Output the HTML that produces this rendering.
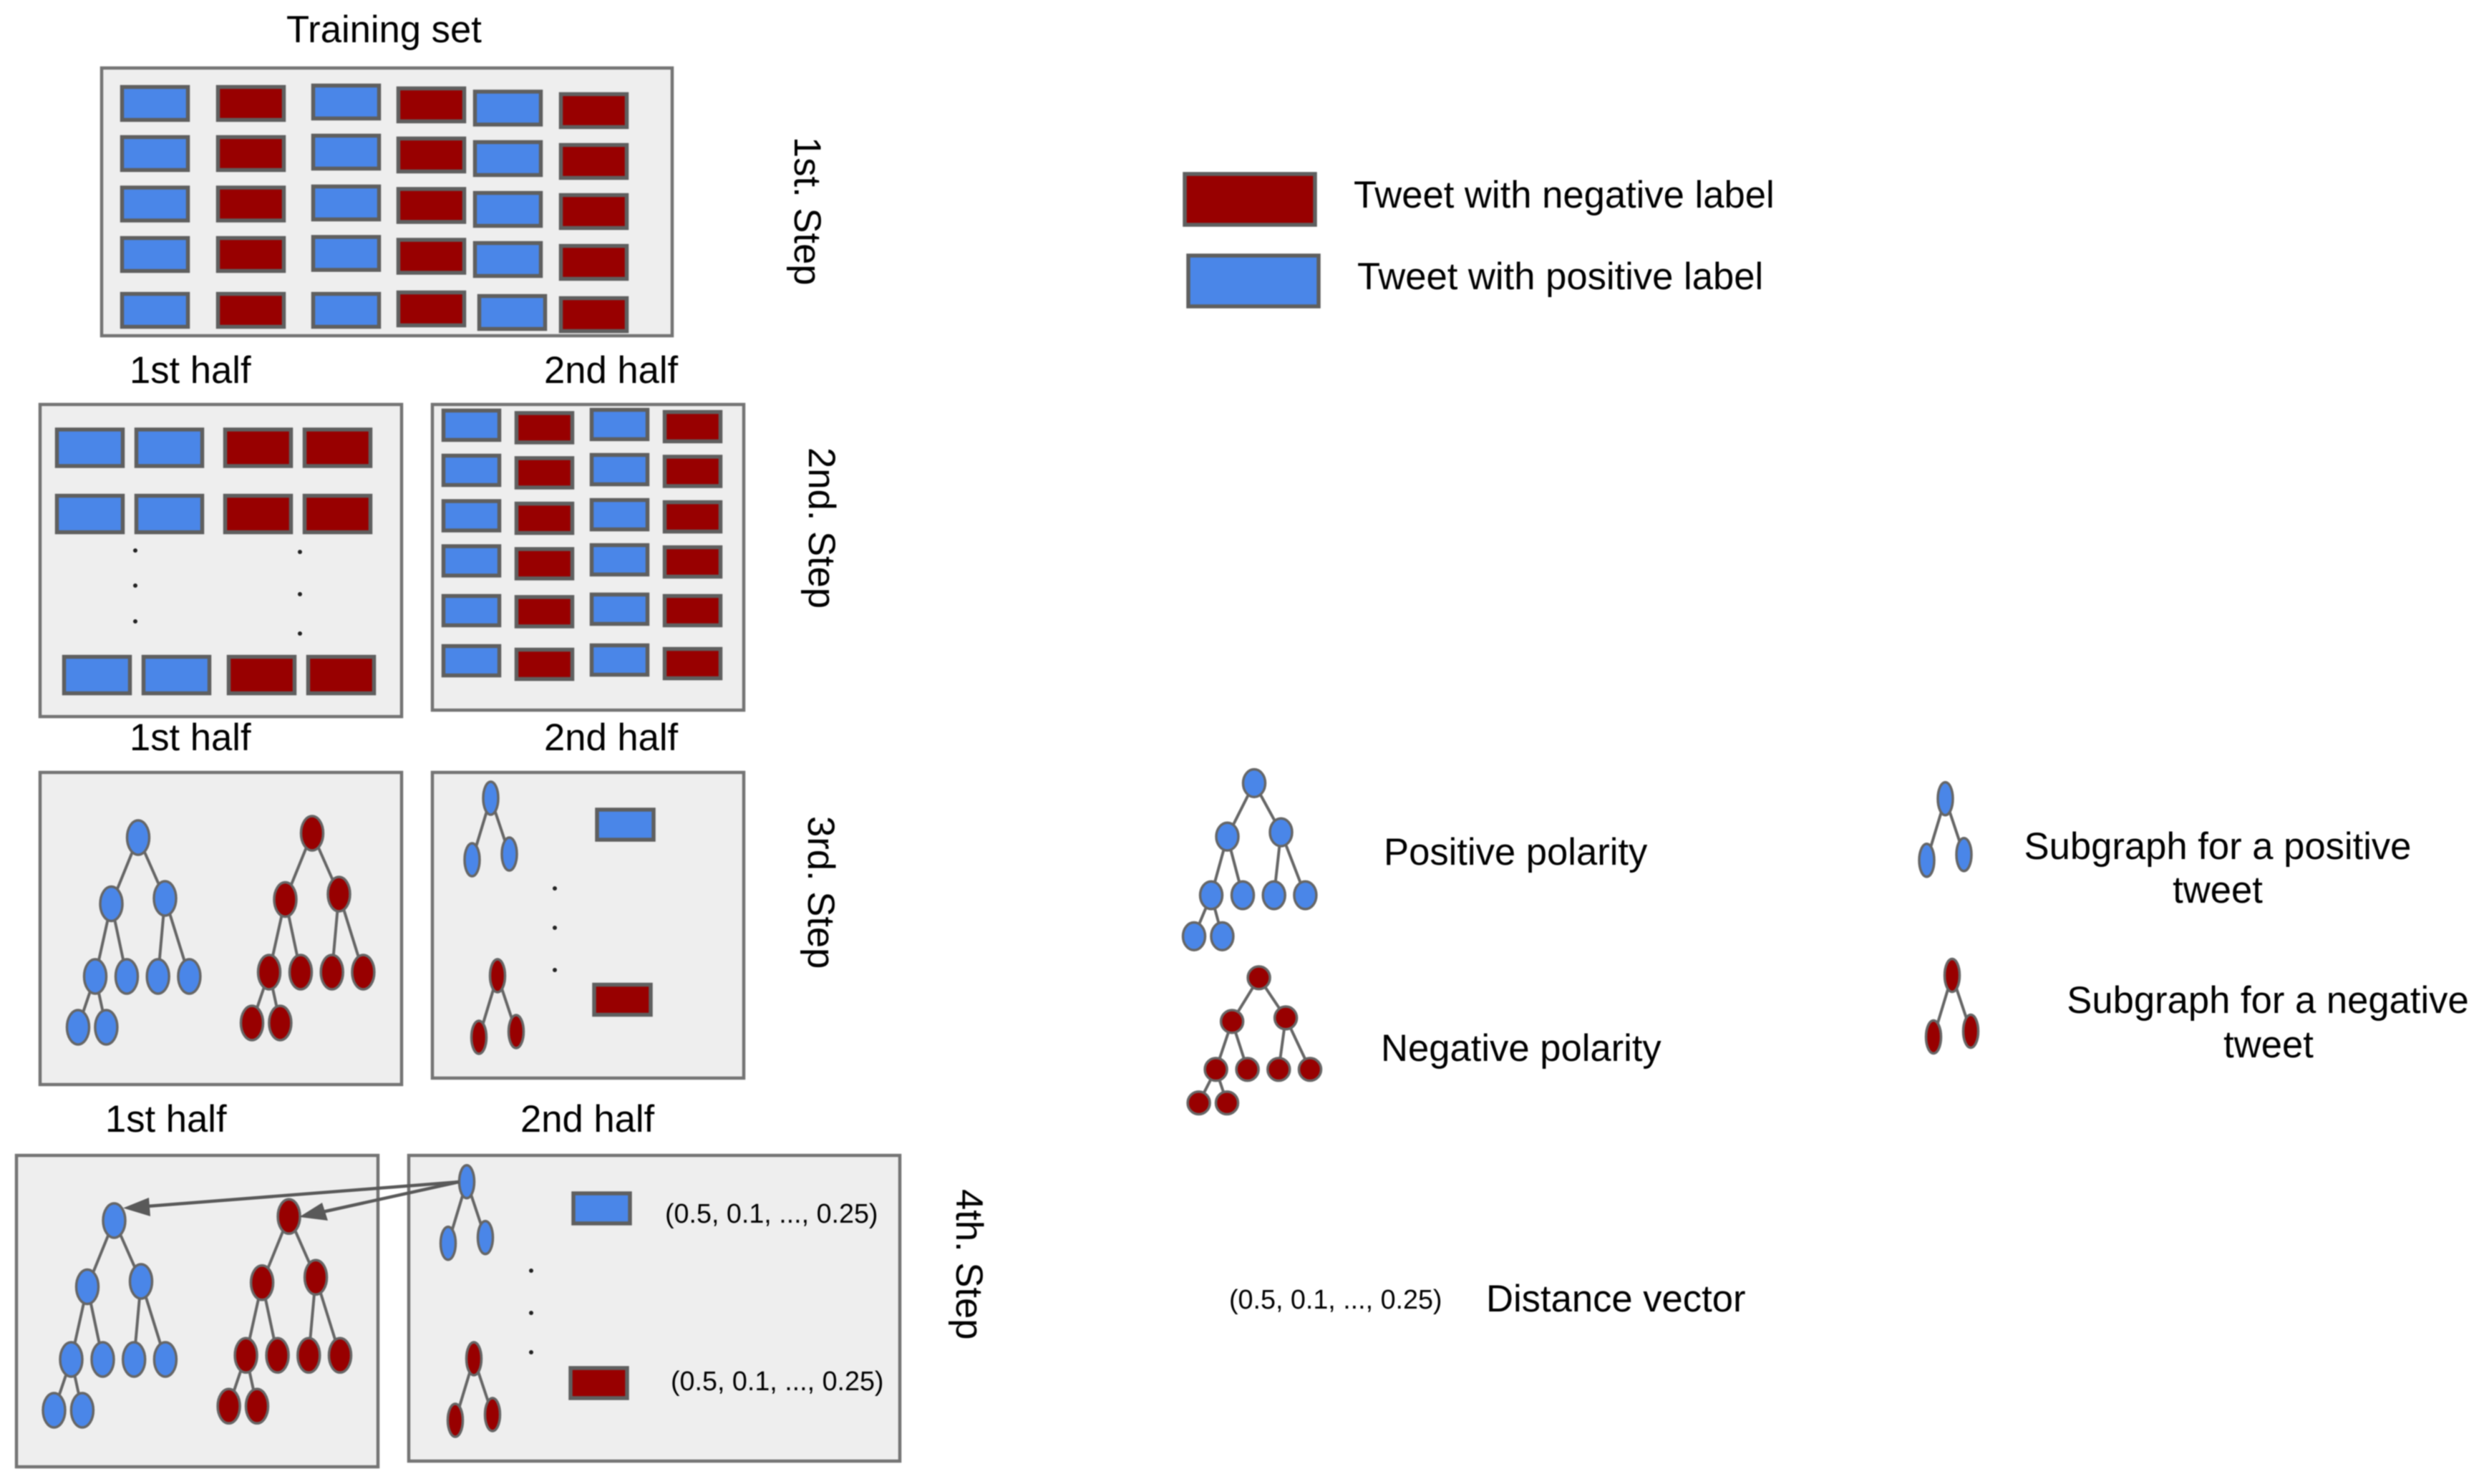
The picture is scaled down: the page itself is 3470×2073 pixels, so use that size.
<!DOCTYPE html>
<html lang="en">
<head>
<meta charset="utf-8">
<title>Training set steps diagram</title>
<style>
html,body{margin:0;padding:0;background:#fff;width:3470px;height:2073px;overflow:hidden}
svg{display:block;filter:blur(0.7px)}
text{font-family:"Liberation Sans",sans-serif;font-size:52.6px;fill:#000}
.small{font-size:37.7px}
.frame{fill:#eeeeee;stroke:#747474;stroke-width:4.5}
.b{fill:#4a86e8;stroke:#5f5f5f;stroke-width:5.5}
.r{fill:#980000;stroke:#5f5f5f;stroke-width:5.5}
.e{stroke:#666;stroke-width:4;fill:none;vector-effect:non-scaling-stroke}
.n{stroke:#666;stroke-width:3.5;vector-effect:non-scaling-stroke}
.dot{fill:#222}
</style>
</head>
<body>
<svg width="3470" height="2073" viewBox="0 0 3470 2073" xmlns="http://www.w3.org/2000/svg">
<defs>
  <g id="tree">
    <line class="e" x1="0" y1="0" x2="-37.5" y2="92.5"/><line class="e" x1="0" y1="0" x2="37.5" y2="85"/>
    <line class="e" x1="-37.5" y1="92.5" x2="-60" y2="194"/><line class="e" x1="-37.5" y1="92.5" x2="-16" y2="194"/>
    <line class="e" x1="37.5" y1="85" x2="27.7" y2="194"/><line class="e" x1="37.5" y1="85" x2="71.4" y2="194"/>
    <line class="e" x1="-60" y1="194" x2="-84" y2="265"/><line class="e" x1="-60" y1="194" x2="-44.6" y2="265"/>
    <ellipse class="n" cx="0" cy="0" rx="15.5" ry="24"/>
    <ellipse class="n" cx="-37.5" cy="92.5" rx="15.5" ry="24"/><ellipse class="n" cx="37.5" cy="85" rx="15.5" ry="24"/>
    <ellipse class="n" cx="-60" cy="194" rx="15.5" ry="24"/><ellipse class="n" cx="-16" cy="194" rx="15.5" ry="24"/>
    <ellipse class="n" cx="27.7" cy="194" rx="15.5" ry="24"/><ellipse class="n" cx="71.4" cy="194" rx="15.5" ry="24"/>
    <ellipse class="n" cx="-84" cy="265" rx="15.5" ry="24"/><ellipse class="n" cx="-44.6" cy="265" rx="15.5" ry="24"/>
  </g>
  <g id="sub">
    <line class="e" x1="0" y1="0" x2="-26" y2="86"/><line class="e" x1="0" y1="0" x2="26" y2="78"/>
    <ellipse class="n" cx="0" cy="0" rx="10.5" ry="23"/>
    <ellipse class="n" cx="-26" cy="86" rx="10.5" ry="23"/><ellipse class="n" cx="26" cy="78" rx="10.5" ry="23"/>
  </g>
</defs>

<text x="400" y="59">Training set</text>

<!-- Step 1 -->
<rect class="frame" x="142" y="95" width="797" height="374"/>
<g transform="translate(2.5,2.5)">
  <g>
    <rect class="b" x="168" y="119" width="92" height="46"/>
    <rect class="b" x="168" y="189" width="92" height="46"/>
    <rect class="b" x="168" y="259.5" width="92" height="46"/>
    <rect class="b" x="168" y="330" width="92" height="46"/>
    <rect class="b" x="168" y="408" width="92" height="46"/>
  </g>
  <g>
    <rect class="r" x="302" y="119" width="92" height="46"/>
    <rect class="r" x="302" y="189" width="92" height="46"/>
    <rect class="r" x="302" y="259.5" width="92" height="46"/>
    <rect class="r" x="302" y="330" width="92" height="46"/>
    <rect class="r" x="302" y="408" width="92" height="46"/>
  </g>
  <g>
    <rect class="b" x="435" y="117" width="92" height="46"/>
    <rect class="b" x="435" y="187" width="92" height="46"/>
    <rect class="b" x="435" y="258" width="92" height="46"/>
    <rect class="b" x="435" y="328.5" width="92" height="46"/>
    <rect class="b" x="435" y="408" width="92" height="46"/>
  </g>
  <g>
    <rect class="r" x="554" y="121" width="92" height="46"/>
    <rect class="r" x="554" y="191" width="92" height="46"/>
    <rect class="r" x="554" y="261.5" width="92" height="46"/>
    <rect class="r" x="554" y="332.5" width="92" height="46"/>
    <rect class="r" x="554" y="406" width="92" height="46"/>
  </g>
  <g>
    <rect class="b" x="661" y="125.5" width="92" height="46"/>
    <rect class="b" x="661" y="196" width="92" height="46"/>
    <rect class="b" x="661" y="267" width="92" height="46"/>
    <rect class="b" x="661" y="337" width="92" height="46"/>
    <rect class="b" x="667" y="411" width="92" height="46"/>
  </g>
  <g>
    <rect class="r" x="781" y="129" width="92" height="46"/>
    <rect class="r" x="781" y="200" width="92" height="46"/>
    <rect class="r" x="781" y="270" width="92" height="46"/>
    <rect class="r" x="781" y="341" width="92" height="46"/>
    <rect class="r" x="781" y="414" width="92" height="46"/>
  </g>
</g>
<text transform="translate(1110,191) rotate(90)">1st. Step</text>

<!-- Step 2 -->
<text x="181" y="535">1st half</text>
<text x="760" y="535">2nd half</text>
<rect class="frame" x="56" y="565" width="505" height="436"/>
<g transform="translate(1.5,1.5)">
  <rect class="b" x="78" y="598.5" width="92" height="51"/>
  <rect class="b" x="189" y="598.5" width="92" height="51"/>
  <rect class="r" x="313" y="598.5" width="92" height="51"/>
  <rect class="r" x="424" y="598.5" width="92" height="51"/>
  <rect class="b" x="78" y="691" width="92" height="51"/>
  <rect class="b" x="189" y="691" width="92" height="51"/>
  <rect class="r" x="313" y="691" width="92" height="51"/>
  <rect class="r" x="424" y="691" width="92" height="51"/>
  <rect class="b" x="88" y="916" width="92" height="51"/>
  <rect class="b" x="199" y="916" width="92" height="51"/>
  <rect class="r" x="318" y="916" width="92" height="51"/>
  <rect class="r" x="429" y="916" width="92" height="51"/>
</g>
<g>
  <circle class="dot" cx="189" cy="769" r="3"/>
  <circle class="dot" cx="189" cy="818" r="3"/>
  <circle class="dot" cx="189" cy="868" r="3"/>
  <circle class="dot" cx="419" cy="771" r="3"/>
  <circle class="dot" cx="419" cy="830" r="3"/>
  <circle class="dot" cx="419" cy="885" r="3"/>
</g>
<rect class="frame" x="604" y="565" width="435" height="427"/>
<g transform="translate(1.5,1.5)">
  <rect class="b" x="618" y="572" width="78" height="41"/>
  <rect class="b" x="618" y="635" width="78" height="41"/>
  <rect class="b" x="618" y="698.5" width="78" height="41"/>
  <rect class="b" x="618" y="761.5" width="78" height="41"/>
  <rect class="b" x="618" y="831" width="78" height="41"/>
  <rect class="b" x="618" y="901" width="78" height="41"/>
  <rect class="r" x="720" y="575.5" width="78" height="41"/>
  <rect class="r" x="720" y="638.5" width="78" height="41"/>
  <rect class="r" x="720" y="702" width="78" height="41"/>
  <rect class="r" x="720" y="765.5" width="78" height="41"/>
  <rect class="r" x="720" y="832.5" width="78" height="41"/>
  <rect class="r" x="720" y="906" width="78" height="41"/>
  <rect class="b" x="825" y="571" width="78" height="41"/>
  <rect class="b" x="825" y="634" width="78" height="41"/>
  <rect class="b" x="825" y="697" width="78" height="41"/>
  <rect class="b" x="825" y="760" width="78" height="41"/>
  <rect class="b" x="825" y="829" width="78" height="41"/>
  <rect class="b" x="825" y="900" width="78" height="41"/>
  <rect class="r" x="927" y="574" width="78" height="41"/>
  <rect class="r" x="927" y="636.5" width="78" height="41"/>
  <rect class="r" x="927" y="700" width="78" height="41"/>
  <rect class="r" x="927" y="763" width="78" height="41"/>
  <rect class="r" x="927" y="831" width="78" height="41"/>
  <rect class="r" x="927" y="905" width="78" height="41"/>
</g>
<text transform="translate(1130,625) rotate(90)">2nd. Step</text>

<!-- Step 3 -->
<text x="181" y="1048">1st half</text>
<text x="760" y="1048">2nd half</text>
<rect class="frame" x="56" y="1079" width="505" height="436"/>
<rect class="frame" x="604" y="1079" width="435" height="427"/>
<use href="#tree" fill="#4a86e8" transform="translate(193,1170)"/>
<use href="#tree" fill="#980000" transform="translate(436,1164)"/>
<use href="#sub" fill="#4a86e8" transform="translate(685.5,1115)"/>
<use href="#sub" fill="#980000" transform="translate(695,1363)"/>
<rect class="b" x="834" y="1131" width="79" height="42"/>
<rect class="r" x="830" y="1375.5" width="79" height="42"/>
<g>
  <circle class="dot" cx="775" cy="1241" r="3"/>
  <circle class="dot" cx="775" cy="1296" r="3"/>
  <circle class="dot" cx="775" cy="1355" r="3"/>
</g>
<text transform="translate(1129,1140) rotate(90)">3rd. Step</text>

<!-- Step 4 -->
<text x="147" y="1581">1st half</text>
<text x="727" y="1581">2nd half</text>
<rect class="frame" x="23" y="1614" width="505" height="435"/>
<rect class="frame" x="571" y="1614" width="686" height="427"/>
<use href="#tree" fill="#4a86e8" transform="translate(159.5,1705)"/>
<use href="#tree" fill="#980000" transform="translate(403.6,1699.3)"/>
<use href="#sub" fill="#4a86e8" transform="translate(652,1650.8)"/>
<use href="#sub" fill="#980000" transform="translate(662,1898)"/>
<rect class="b" x="801" y="1667" width="79" height="42"/>
<rect class="r" x="797" y="1911" width="79" height="42"/>
<g>
  <circle class="dot" cx="742" cy="1775" r="3"/>
  <circle class="dot" cx="742" cy="1834" r="3"/>
  <circle class="dot" cx="742" cy="1889" r="3"/>
</g>
<g>
  <line x1="641" y1="1651" x2="200" y2="1685.5" stroke="#595959" stroke-width="4.5"/>
  <polygon points="172,1687.5 208,1673 210,1699" fill="#595959"/>
</g>
<g>
  <line x1="641" y1="1651" x2="446" y2="1694" stroke="#595959" stroke-width="4.5"/>
  <polygon points="418,1700 450,1680 458,1705" fill="#595959"/>
</g>
<text class="small" x="929" y="1708">(0.5, 0.1, ..., 0.25)</text>
<text class="small" x="937" y="1942">(0.5, 0.1, ..., 0.25)</text>
<text transform="translate(1336,1661) rotate(90)">4th. Step</text>

<!-- Legend -->
<g>
  <rect class="r" x="1655" y="243" width="182" height="71"/>
  <text x="1891" y="290">Tweet with negative label</text>
  <rect class="b" x="1660" y="357" width="182" height="71"/>
  <text x="1896" y="404">Tweet with positive label</text>

  <use href="#tree" fill="#4a86e8" transform="translate(1752,1094) scale(1,0.807)"/>
  <text x="1933" y="1208">Positive polarity</text>
  <use href="#tree" fill="#980000" transform="translate(1758.6,1365.8) scale(1,0.66)"/>
  <text x="1929" y="1482">Negative polarity</text>

  <use href="#sub" fill="#4a86e8" transform="translate(2717.5,1115.7)"/>
  <text text-anchor="middle" x="3098" y="1200">Subgraph for a positive</text>
  <text text-anchor="middle" x="3098" y="1261">tweet</text>
  <use href="#sub" fill="#980000" transform="translate(2727,1362.5)"/>
  <text text-anchor="middle" x="3168" y="1415">Subgraph for a negative</text>
  <text text-anchor="middle" x="3169" y="1477">tweet</text>

  <text class="small" x="1717" y="1828">(0.5, 0.1, ..., 0.25)</text>
  <text x="2076" y="1832">Distance vector</text>
</g>
</svg>
</body>
</html>
